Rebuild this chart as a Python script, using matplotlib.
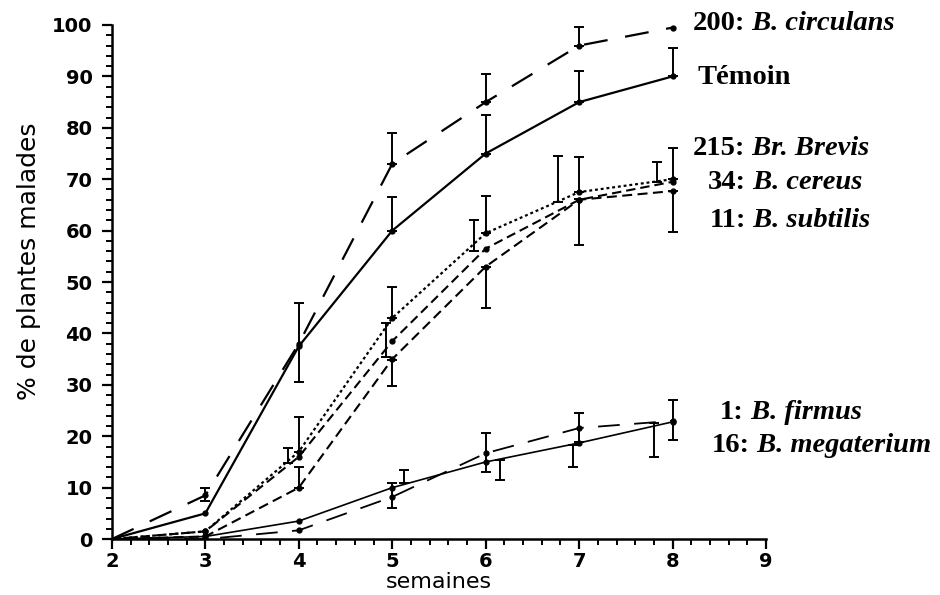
import matplotlib.pyplot as plt
from matplotlib.ticker import MultipleLocator

# weeks after sowing
weeks = [2, 3, 4, 5, 6, 7, 8]

# % diseased plants per treatment
circulans = [0, 8.5, 38, 73, 85, 96, 99.5]
temoin = [0, 5, 37.5, 60, 75, 85, 90]
brevis = [0, 1.5, 17, 43, 59.5, 67.5, 70]
cereus = [0, 1.5, 16, 38.5, 56.5, 66, 69.5]
subtilis = [0, 0.5, 10, 35, 53, 66, 67.7]
firmus = [0, 0.5, 3.5, 10, 15, 18.7, 22.8]
megaterium = [0, 0, 1.7, 8.2, 16.7, 21.6, 23]

# error bars: position, low end, high end
circulans_bx = [3, 5, 6, 7]
circulans_lo = [7.5, 73, 85, 96]
circulans_hi = [10, 79, 90.5, 99.6]

temoin_bx = [4, 5, 6, 7, 8]
temoin_lo = [30.5, 60, 75, 85, 90]
temoin_hi = [46, 66.5, 82.5, 91, 95.5]

brevis_bx = [4, 5, 6, 7, 8]
brevis_lo = [17, 43, 59.5, 67.5, 70]
brevis_hi = [23.7, 49, 66.7, 74.3, 76]

cereus_bx = [3.88, 4.93, 5.87, 6.77, 7.83]
cereus_lo = [14.8, 35.4, 56, 65.6, 69.5]
cereus_hi = [17.7, 42, 62, 74.5, 73.3]

subtilis_bx = [4, 5, 6, 7, 8]
subtilis_lo = [10, 29.8, 45, 57.2, 59.7]
subtilis_hi = [14, 34.8, 53, 66.1, 67.7]

firmus_bx = [5.13, 6.15, 6.93, 7.8]
firmus_lo = [10.9, 11.5, 14, 16]
firmus_hi = [13.4, 15.4, 18.3, 22.6]

megaterium_bx = [5, 6, 7, 8]
megaterium_lo = [6, 13, 18.9, 19.3]
megaterium_hi = [10.9, 20.6, 24.5, 27]

fig = plt.figure(figsize=(9.4, 5.95), dpi=100)
ax = fig.add_axes([0.119, 0.094, 0.696, 0.864])

series = [
    (circulans, dict(lw=1.6, dashes=(10.8, 8))),
    (temoin, dict(lw=1.6)),
    (brevis, dict(lw=1.6, dashes=(1.3, 1.3))),
    (cereus, dict(lw=1.5, dashes=(4.5, 2.4))),
    (subtilis, dict(lw=1.5, dashes=(4.8, 2.6))),
    (firmus, dict(lw=1.2)),
    (megaterium, dict(lw=1.3, dashes=(12, 8))),
]
for vals, style in series:
    ax.plot(weeks, vals, color='black', **style)
    ax.plot(weeks[1:], vals[1:], 'o', color='black', ms=3.5)

bars = [
    (circulans_bx, circulans_lo, circulans_hi),
    (temoin_bx, temoin_lo, temoin_hi),
    (brevis_bx, brevis_lo, brevis_hi),
    (cereus_bx, cereus_lo, cereus_hi),
    (subtilis_bx, subtilis_lo, subtilis_hi),
    (firmus_bx, firmus_lo, firmus_hi),
    (megaterium_bx, megaterium_lo, megaterium_hi),
]
for bx, lo, hi in bars:
    up = [h - l for l, h in zip(lo, hi)]
    ax.errorbar(bx, lo, yerr=[[0] * len(lo), up], fmt='none',
                ecolor='black', elinewidth=1.4, capsize=3.5, capthick=1.4)

ax.set_xlim(2, 9)
ax.set_ylim(0, 100)
ax.spines['top'].set_visible(False)
ax.spines['right'].set_visible(False)
ax.spines['left'].set_linewidth(1.8)
ax.spines['bottom'].set_linewidth(1.8)
ax.xaxis.set_major_locator(MultipleLocator(1))
ax.xaxis.set_minor_locator(MultipleLocator(0.2))
ax.yaxis.set_major_locator(MultipleLocator(10))
ax.yaxis.set_minor_locator(MultipleLocator(2))
ax.tick_params(which='major', length=7, width=1.6, labelsize=14)
ax.tick_params(axis='y', which='major', pad=7)
ax.tick_params(axis='x', which='major', pad=2)
ax.tick_params(which='minor', length=4.5, width=1.4)
for lab in ax.get_xticklabels() + ax.get_yticklabels():
    lab.set_fontweight('bold')

ax.set_xlabel('semaines', fontsize=16, labelpad=1)
ax.set_ylabel('% de plantes malades', fontsize=18, y=0.54, labelpad=8)

# species labels on the right, number in bold, name in bold italic
labels = [
    ('200:', ' B. circulans', 0.737, 0.961),
    ('Témoin', '', 0.742, 0.869),
    ('215:', ' Br. Brevis', 0.737, 0.751),
    ('34:', ' B. cereus', 0.753, 0.694),
    ('11:', ' B. subtilis', 0.755, 0.630),
    ('1:', ' B. firmus', 0.766, 0.306),
    ('16:', ' B. megaterium', 0.757, 0.252),
]
serif = ['Liberation Serif', 'DejaVu Serif']
for num, name, x, y in labels:
    t = fig.text(x, y, num, family=serif, fontsize=20.5, fontweight='bold',
                 va='center', ha='left')
    if name:
        ax.annotate(name, xy=(1, 0.5), xycoords=t, va='center', ha='left',
                    family=serif, fontsize=20.5, fontweight='bold',
                    fontstyle='italic', annotation_clip=False)

fig.savefig('out.png', dpi=100)
